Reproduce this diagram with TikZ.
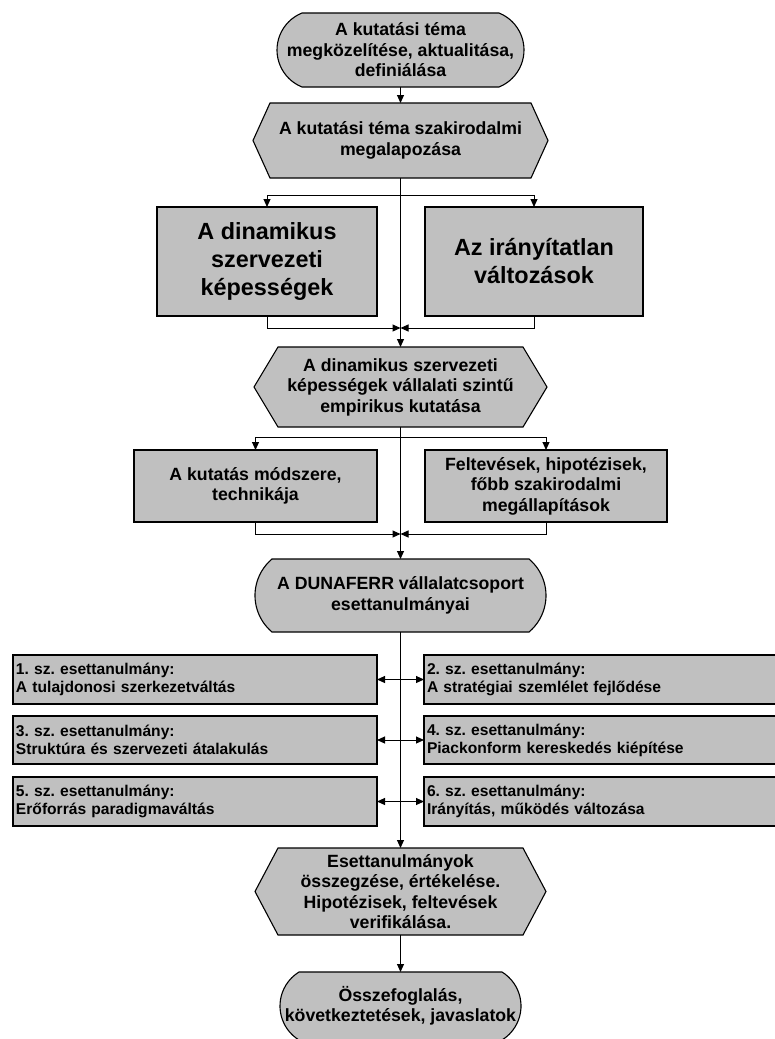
\documentclass[tikz,border=0pt]{standalone}
\usepackage{fontspec}
\setmainfont{Liberation Sans}
\usetikzlibrary{arrows.meta}
\definecolor{boxgray}{HTML}{C0C0C0}
\frenchspacing
\tikzset{
  fillshape/.style={fill=boxgray, draw=black, line width=1.1pt, line join=miter},
  txt/.style={draw=none, inner sep=0pt, outer sep=0pt, align=center, font=\bfseries\fontsize{17.7}{20.5}\selectfont},
  bigbox/.style={fill=boxgray, draw=black, line width=2.5pt, align=center, inner sep=0pt, outer sep=0pt, font=\bfseries\fontsize{23.4}{28}\selectfont},
  midbox/.style={fill=boxgray, draw=black, line width=1.1pt, align=center, inner sep=0pt, outer sep=0pt, font=\bfseries\fontsize{17.7}{20.5}\selectfont},
  casebox/.style={fill=boxgray, draw=black, line width=1.1pt, align=left, inner xsep=3pt, inner ysep=0pt, outer sep=0pt, font=\bfseries\fontsize{15.6}{18}\selectfont},
  conn/.style={line width=1pt, -{Triangle[length=8pt,width=7pt]}},
}
% name, x0, x1, ytop, ybot, sagitta, text
\newcommand\termnode[7]{%
  \pgfmathsetmacro\tnh{(#5-#4)/2}%
  \pgfmathsetmacro\tnr{(\tnh*\tnh+#6*#6)/(2*#6)}%
  \pgfmathsetmacro\tnt{atan2(\tnh,\tnr-#6)}%
  \filldraw[fillshape] ({#3-#6},{-#4}) arc[start angle=\tnt, end angle=-\tnt, radius=\tnr]
     -- ({#2+#6},{-#5}) arc[start angle=180+\tnt, end angle=180-\tnt, radius=\tnr] -- cycle;
  \node[txt, minimum width={(#3-#2)*1pt}, minimum height={(#5-#4)*1pt}] (#1) at ({(#2+#3)/2},{-(#4+#5)/2}) {#7};
}
% name, x0, x1, ytop, ybot, indent, text
\newcommand\hexnode[7]{%
  \filldraw[fillshape] ({#2},{-(#4+#5)/2}) -- ({#2+#6},{-#4}) -- ({#3-#6},{-#4}) -- ({#3},{-(#4+#5)/2})
     -- ({#3-#6},{-#5}) -- ({#2+#6},{-#5}) -- cycle;
  \node[txt, minimum width={(#3-#2)*1pt}, minimum height={(#5-#4)*1pt}] (#1) at ({(#2+#3)/2},{-(#4+#5)/2}) {#7};
}
\begin{document}
\begin{tikzpicture}[x=1pt,y=1pt]
\useasboundingbox (0,0) rectangle (774,-1039);

\termnode{top}{277}{524}{13}{87}{25}{A kutatási téma\\megközelítése, aktualitása,\\definiálása}
\hexnode{hexa}{253}{548}{103}{178}{17}{A kutatási téma szakirodalmi\\megalapozása}

\node[bigbox, minimum width=220pt, minimum height=109pt] (bigL) at (267,-261.5) {A dinamikus\\szervezeti\\képességek};
\node[bigbox, minimum width=218pt, minimum height=109pt] (bigR) at (534,-261.5) {Az irányítatlan\\változások};

\hexnode{hexb}{254}{547}{347}{427}{24}{A dinamikus szervezeti\\képességek vállalati szintű\\empirikus kutatása}

\node[midbox, minimum width=243pt, minimum height=72pt] (midL) at (255.5,-486) {A kutatás módszere,\\technikája};
\node[midbox, minimum width=242pt, minimum height=72pt] (midR) at (546,-486) {Feltevések, hipotézisek,\\főbb szakirodalmi\\megállapítások};

\termnode{dun}{255}{546}{559}{632}{17}{A DUNAFERR vállalatcsoport\\esettanulmányai}

\node[casebox, minimum width=364pt, minimum height=49pt, text width=358pt] (c1) at (195,-679.5) {1. sz. esettanulmány:\\A tulajdonosi szerkezetváltás};
\node[casebox, minimum width=353pt, minimum height=49pt, text width=347pt] (c2) at (600.5,-679.5) {2. sz. esettanulmány:\\A stratégiai szemlélet fejlődése};
\node[casebox, minimum width=364pt, minimum height=48pt, text width=358pt] (c3) at (195,-740) {3. sz. esettanulmány:\\Struktúra és szervezeti átalakulás};
\node[casebox, minimum width=353pt, minimum height=48pt, text width=347pt] (c4) at (600.5,-740) {4. sz. esettanulmány:\\Piackonform kereskedés kiépítése};
\node[casebox, minimum width=364pt, minimum height=49pt, text width=358pt] (c5) at (195,-801.5) {5. sz. esettanulmány:\\Erőforrás paradigmaváltás};
\node[casebox, minimum width=353pt, minimum height=49pt, text width=347pt] (c6) at (600.5,-801.5) {6. sz. esettanulmány:\\Irányítás, működés változása};

\hexnode{hexc}{255}{546}{848}{935}{23}{Esettanulmányok\\összegzése, értékelése.\\Hipotézisek, feltevések\\verifikálása.}
\termnode{fin}{280}{521}{972}{1040}{19}{Összefoglalás,\\következtetések, javaslatok}

% coordinates on the centre line
\coordinate (s1) at (400.5,-195);
\coordinate (m1) at (400.5,-328);
\coordinate (s2) at (400.5,-437);
\coordinate (m2) at (400.5,-534);

% connectors
\draw[conn] (top.south) -- (hexa.north);
\draw[conn] (hexa.south) -- (hexb.north);
\draw[conn] (s1) -| (bigL.north);
\draw[conn] (s1) -| (bigR.north);
\draw[conn] (bigL.south) |- (m1);
\draw[conn] (bigR.south) |- (m1);

\draw[conn] (hexb.south) -- (dun.north);
\draw[conn] (s2) -| (midL.north);
\draw[conn] (s2) -| (midR.north);
\draw[conn] (midL.south) |- (m2);
\draw[conn] (midR.south) |- (m2);

\draw[conn] (dun.south) -- (hexc.north);
\draw[conn] (c1.east -| dun.south) -- (c1.east);
\draw[conn] (c2.west -| dun.south) -- (c2.west);
\draw[conn] (c3.east -| dun.south) -- (c3.east);
\draw[conn] (c4.west -| dun.south) -- (c4.west);
\draw[conn] (c5.east -| dun.south) -- (c5.east);
\draw[conn] (c6.west -| dun.south) -- (c6.west);

\draw[conn] (hexc.south) -- (fin.north);
\end{tikzpicture}
\end{document}
